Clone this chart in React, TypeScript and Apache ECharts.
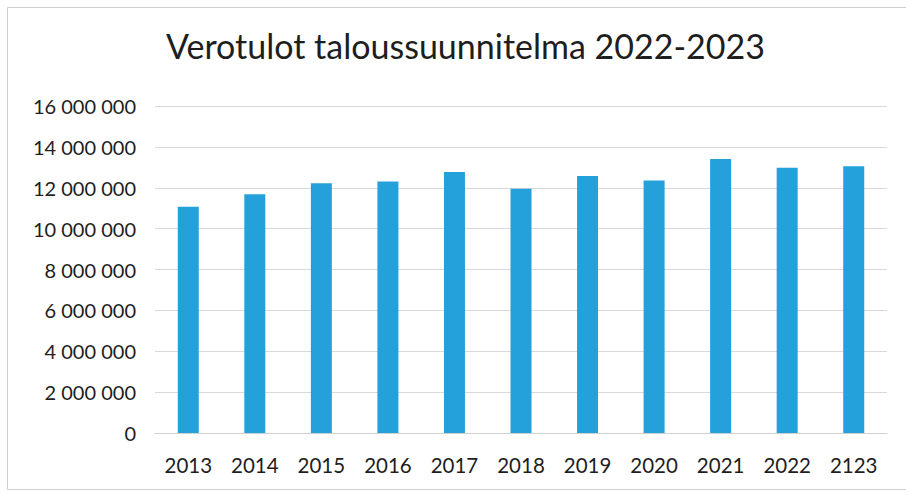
import React, { useEffect, useRef } from "react";
import * as echarts from "echarts";

const titleText = "Verotulot taloussuunnitelma 2022-2023";
const categories = ["2013", "2014", "2015", "2016", "2017", "2018", "2019", "2020", "2021", "2022", "2123"];
const values = [11070000, 11680000, 12220000, 12310000, 12770000, 11950000, 12570000, 12360000, 13410000, 12980000, 13050000];
const yMin = 0;
const yMax = 16000000;
const yInterval = 2000000;

function fmt(v: number): string {
  return String(Math.round(v)).replace(/\B(?=(\d{3})+(?!\d))/g, " ");
}

export default function App() {
  const ref = useRef<HTMLDivElement>(null);
  useEffect(() => {
    if (!ref.current) return;
    const chart = echarts.init(ref.current, null, { renderer: "svg" });
    chart.setOption({
      animation: false,
      backgroundColor: "#ffffff",
      title: {
        text: titleText,
        left: 166,
        top: 28,
        padding: 0,
        textStyle: { fontFamily: "Lato", fontWeight: "normal", fontSize: 34, color: "#1e1e1e" },
      },
      graphic: [
        {
          type: "rect",
          shape: { x: 7.5, y: 7.5, width: 910, height: 482 },
          style: { fill: "none", stroke: "#cfcfcf", lineWidth: 1 },
          silent: true,
        },
      ],
      grid: { left: 155, right: 19, top: 106, bottom: 61, containLabel: false },
      xAxis: {
        type: "category",
        data: categories,
        axisLine: { show: true, lineStyle: { color: "#d0d0d0", width: 1 } },
        axisTick: { show: false },
        axisLabel: { fontFamily: "Lato", fontSize: 20.5, color: "#1e1e1e", margin: 21 },
      },
      yAxis: {
        type: "value",
        min: yMin,
        max: yMax,
        interval: yInterval,
        axisLine: { show: false },
        axisTick: { show: false },
        splitLine: { lineStyle: { color: "#d9d9d9", width: 1 } },
        axisLabel: {
          fontFamily: "Lato",
          fontSize: 20,
          color: "#1e1e1e",
          margin: 19,
          formatter: (v: number) => fmt(v),
        },
      },
      series: [
        {
          type: "bar",
          data: values,
          barWidth: 21,
          itemStyle: { color: "#24a0da" },
        },
      ],
    });
    return () => chart.dispose();
  }, []);
  return <div ref={ref} style={{ position: "fixed", left: 0, top: 0, width: 906, height: 494 }} />;
}
